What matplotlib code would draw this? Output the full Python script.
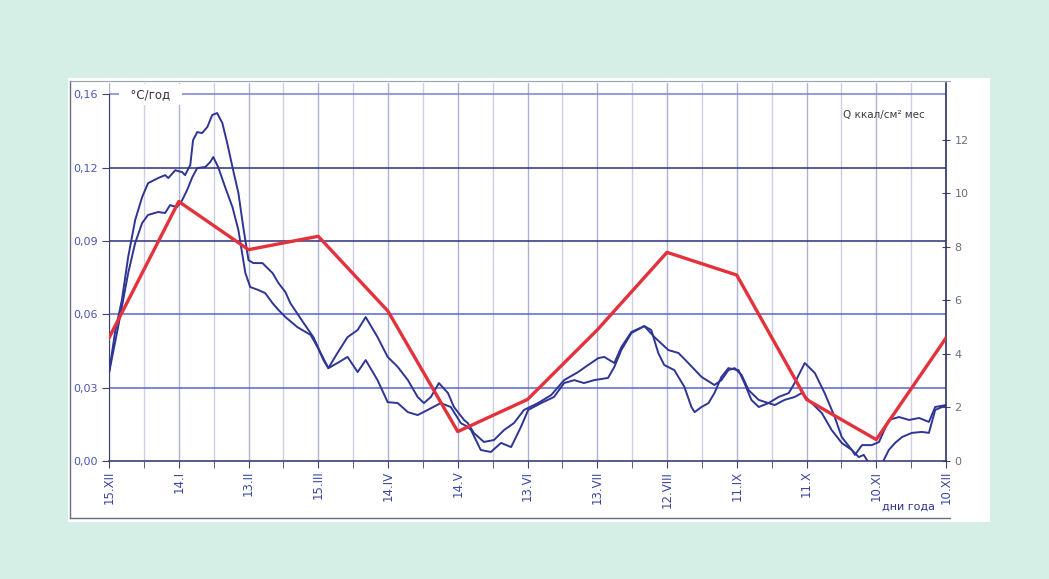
import matplotlib.pyplot as plt
from matplotlib.patches import Rectangle
from matplotlib.lines import Line2D

plt.rcParams['font.family'] = ['DejaVu Sans']

# x axis: half-month steps from 15.XII (0) to 10.XII (24)
date_labels = ['15.XII', '14.I', '13.II', '15.III', '14.IV', '14.V', '13.VI',
               '13.VII', '12.VIII', '11.IX', '11.X', '10.XI', '10.XII']

# monthly radiation Q, kcal/cm2 per month (right axis)
q_values = [4.6, 9.7, 7.9, 8.4, 5.6, 1.1, 2.3, 4.9, 7.8, 6.95, 2.3, 0.8, 4.6]

t_ticks = [0.0, 0.03, 0.06, 0.09, 0.12, 0.15]
t_tick_labels = ['0,00', '0,03', '0,06', '0,09', '0,12', '0,16']
q_ticks = [0, 2, 4, 6, 8, 10, 12]

# rate of temperature change, degC per year (left axis)
curve1_x = [0.0, 0.17, 0.37, 0.55, 0.75, 0.95, 1.12, 1.41, 1.61, 1.70, 1.90,
            2.10, 2.18, 2.33, 2.41, 2.53, 2.67, 2.82, 2.96, 3.10, 3.25, 3.39,
            3.54, 3.71, 3.85, 4.00, 4.14, 4.40, 4.69, 4.86, 5.06, 5.20, 5.58,
            5.86, 6.07, 6.29, 6.55, 6.84, 7.13, 7.36, 7.70, 7.99, 8.28, 8.57,
            8.85, 9.03, 9.23, 9.46, 9.72, 9.89, 10.18, 10.29, 10.46, 10.75,
            11.04, 11.33, 11.61, 11.90, 12.30, 12.68, 13.05, 13.45, 13.74,
            14.03, 14.20, 14.49, 14.69, 14.98, 15.35, 15.64, 16.04, 16.33,
            16.61, 16.99, 17.36, 17.56, 17.76, 17.94, 18.14, 18.34, 18.63,
            18.91, 19.20, 19.49, 19.66, 19.95, 20.24, 20.52, 20.81, 21.01,
            21.30, 21.50, 21.64, 21.79, 21.96, 22.16, 22.36, 22.54, 22.74,
            23.02, 23.31, 23.51, 23.69, 23.89, 24.0]
curve1_y = [0.036, 0.0524, 0.0659, 0.0835, 0.0986, 0.108, 0.1137, 0.1158,
            0.117, 0.1158, 0.119, 0.1182, 0.117, 0.1211, 0.1313, 0.1346,
            0.1342, 0.1367, 0.1416, 0.1424, 0.1383, 0.1301, 0.1203, 0.1097,
            0.0957, 0.0822, 0.081, 0.081, 0.0769, 0.0728, 0.0691, 0.0646,
            0.0565, 0.0507, 0.0442, 0.038, 0.0442, 0.0507, 0.0536, 0.0589,
            0.0507, 0.0426, 0.0385, 0.0331, 0.0262, 0.0237, 0.0262, 0.0319,
            0.0278, 0.0221, 0.0168, 0.0155, 0.0115, 0.0078, 0.0086, 0.0127,
            0.0155, 0.0209, 0.0237, 0.027, 0.0331, 0.0364, 0.0393, 0.0421,
            0.0426, 0.0401, 0.0466, 0.0528, 0.0552, 0.0507, 0.0454, 0.0442,
            0.0401, 0.0344, 0.0311, 0.0331, 0.0372, 0.038, 0.0352, 0.029,
            0.025, 0.0237, 0.0262, 0.0278, 0.0319, 0.0401, 0.036, 0.0278,
            0.018, 0.0098, 0.0045, 0.0016, 0.0025, -0.0008, -0.0029, -0.0012,
            0.0045, 0.0074, 0.0098, 0.0115, 0.0119, 0.0115, 0.0209, 0.0221,
            0.0221]

curve2_x = [0.0, 0.26, 0.55, 0.75, 0.95, 1.12, 1.41, 1.61, 1.75, 1.95, 2.10,
            2.24, 2.39, 2.53, 2.76, 2.90, 2.99, 3.13, 3.33, 3.54, 3.71, 3.91,
            4.05, 4.28, 4.48, 4.69, 4.86, 5.06, 5.40, 5.78, 5.98, 6.15, 6.29,
            6.55, 6.84, 7.13, 7.36, 7.70, 7.99, 8.28, 8.57, 8.85, 9.14, 9.51,
            9.80, 10.09, 10.29, 10.38, 10.66, 10.95, 11.24, 11.53, 11.81,
            12.02, 12.39, 12.76, 13.05, 13.34, 13.62, 13.91, 14.31, 14.49,
            14.69, 14.98, 15.35, 15.55, 15.75, 15.92, 16.21, 16.50, 16.70,
            16.79, 16.99, 17.19, 17.36, 17.56, 17.76, 18.05, 18.22, 18.42,
            18.63, 18.91, 19.09, 19.37, 19.66, 19.86, 20.06, 20.44, 20.72,
            21.01, 21.30, 21.39, 21.59, 21.87, 22.08, 22.36, 22.65, 22.94,
            23.23, 23.51, 23.69, 24.0]
curve2_y = [0.036, 0.0548, 0.0769, 0.0892, 0.0974, 0.1007, 0.1019, 0.1015,
            0.1047, 0.1039, 0.1068, 0.1109, 0.1162, 0.1199, 0.1203, 0.1223,
            0.1244, 0.1203, 0.1121, 0.1039, 0.0945, 0.0769, 0.0712, 0.07,
            0.0687, 0.0646, 0.0618, 0.0589, 0.0548, 0.0516, 0.0466, 0.0413,
            0.038, 0.0401, 0.0426, 0.0364, 0.0413, 0.0331, 0.0241, 0.0237,
            0.02, 0.0188, 0.0209, 0.0237, 0.0221, 0.0155, 0.0139, 0.0127,
            0.0045, 0.0037, 0.0074, 0.0057, 0.0139, 0.0209, 0.0237, 0.0262,
            0.0319, 0.0331, 0.0319, 0.0331, 0.034, 0.0385, 0.0454, 0.0524,
            0.0552, 0.0536, 0.0442, 0.0393, 0.0372, 0.0303, 0.0221, 0.02,
            0.0221, 0.0237, 0.0278, 0.0344, 0.038, 0.0372, 0.0319, 0.025,
            0.0221, 0.0237, 0.0229, 0.025, 0.0262, 0.0278, 0.025, 0.0196,
            0.0127, 0.0074, 0.0045, 0.0025, 0.0065, 0.0065, 0.0078, 0.0168,
            0.018, 0.0168, 0.0176, 0.016, 0.0221, 0.0229]

W, H = 1049, 579
fig = plt.figure(figsize=(W / 100, H / 100), dpi=100)
fig.patch.set_facecolor('#d5efe6')

# white picture panel with a thin frame
fig.patches.append(Rectangle((68 / W, 1 - 522 / H), (990 - 68) / W, (522 - 78) / H,
                             transform=fig.transFigure, facecolor='white',
                             edgecolor='none', zorder=-3))
frame = dict(transform=fig.transFigure, color='#6b6f80', lw=1.0, zorder=-2)
fig.lines.append(Line2D([70 / W, 70 / W], [1 - 81 / H, 1 - 518 / H], **frame))
fig.lines.append(Line2D([70 / W, 950 / W], [1 - 518 / H, 1 - 518 / H], **frame))
fig.lines.append(Line2D([70 / W, 950 / W], [1 - 81 / H, 1 - 81 / H],
                        transform=fig.transFigure, color='#9aa0b0', lw=0.8,
                        zorder=-2))

ax = fig.add_axes([109 / W, 1 - 461 / H, (946 - 109) / W, (461 - 83) / H])
ax.set_xlim(0, 24)
ax.set_ylim(0, 0.1547)
ax.patch.set_visible(False)

# vertical grid
ax.set_xticks(range(0, 25, 2))
ax.set_xticks(range(1, 24, 2), minor=True)
ax.set_xticklabels(date_labels, rotation=90, fontsize=8.5, color='#3a47a0')
ax.grid(which='major', axis='x', color='#aeb2d4', lw=1.0)
ax.grid(which='minor', axis='x', color='#cdd0e4', lw=1.0)
ax.set_axisbelow(True)
ax.tick_params(axis='x', which='both', direction='out', length=5,
               color='#40436a', pad=2)

# horizontal grid lines
hcolors = {0.03: '#5865cf', 0.06: '#5865cf', 0.09: '#2c2f7c',
           0.12: '#2c2f7c', 0.15: '#7783d4'}
for v in t_ticks[1:]:
    ax.axhline(v, color=hcolors[v], lw=1.1, zorder=1)

ax.set_yticks(t_ticks)
ax.set_yticklabels(t_tick_labels, fontsize=8, color='#4a56b0')
ax.tick_params(axis='y', direction='out', length=5, color='#40436a', pad=3)

for side in ['top', 'right']:
    ax.spines[side].set_visible(False)
ax.spines['left'].set_bounds(0, 0.15)
ax.spines['left'].set_color('#3c3f72')
ax.spines['bottom'].set_color('#3c3f72')
ax.spines['bottom'].set_linewidth(1.2)

ax.plot(curve1_x, curve1_y, color='#2e3594', lw=1.4, zorder=3)
ax.plot(curve2_x, curve2_y, color='#2e3594', lw=1.4, zorder=3)

ax.text(0.4, 0.15, '  °C/год  ', fontsize=8.5, color='#333344', va='center',
        ha='left', zorder=4,
        bbox=dict(boxstyle='square,pad=0.35', fc='white', ec='none'))

ax2 = ax.twinx()
ax2.set_ylim(0, 14.13)
ax2.set_yticks(q_ticks)
ax2.set_yticklabels([str(q) for q in q_ticks], fontsize=8, color='#6a6c82')
ax2.tick_params(axis='y', direction='inout', length=6, color='#40436a', pad=3)
for side in ['top', 'left', 'bottom']:
    ax2.spines[side].set_visible(False)
ax2.spines['right'].set_color('#2f3266')
ax2.spines['right'].set_linewidth(1.2)

ax2.plot(range(0, 25, 2), q_values, color='#e3323b', lw=2.4, zorder=5)

ax.text(0.975, 0.915, 'Q ккал/см² мес', transform=ax.transAxes, fontsize=7.5,
        color='#3a3a44', ha='right', va='center')
ax.text(0.987, -0.122, 'дни года', transform=ax.transAxes, fontsize=8,
        color='#2d3590', ha='right', va='center')

fig.savefig('out.png', dpi=100, facecolor=fig.get_facecolor())
